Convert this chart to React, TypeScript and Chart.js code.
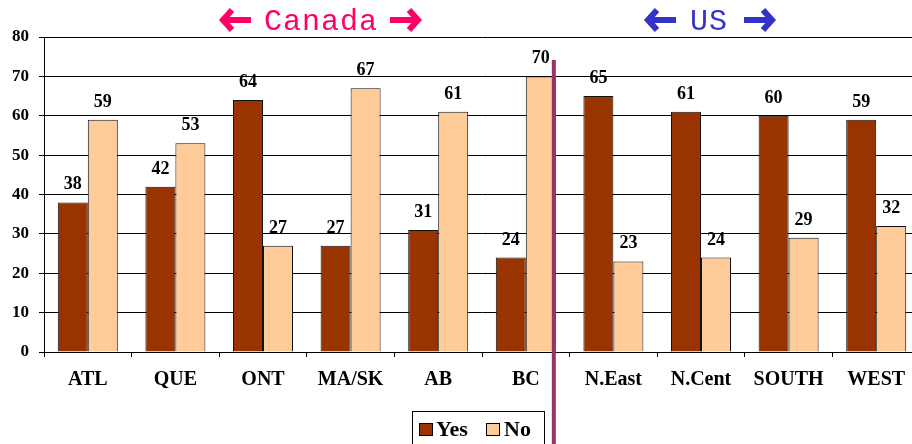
import { useEffect, useRef } from "react";
import { Chart, registerables } from "chart.js";

Chart.register(...registerables);

const categories = ["ATL", "QUE", "ONT", "MA/SK", "AB", "BC", "N.East", "N.Cent", "SOUTH", "WEST"];
const yesValues = [38, 42, 64, 27, 31, 24, 65, 61, 60, 59];
const noValues = [59, 53, 27, 67, 61, 70, 23, 24, 29, 32];
const seriesLabels = ["Yes", "No"];
const seriesColors = ["#993300", "#FFCC99"];
const regionTitles = ["Canada", "US"];
const regionColors = ["#FF0066", "#3333CC"];

const SERIF = '"Liberation Serif", "Times New Roman", serif';
const MONO = '"Liberation Mono", "DejaVu Sans Mono", monospace';

const dataLabelsPlugin = {
  id: "dataLabels",
  afterDatasetsDraw(chart: any) {
    const ctx = chart.ctx;
    ctx.save();
    ctx.font = `bold 18px ${SERIF}`;
    ctx.fillStyle = "#000";
    ctx.textAlign = "center";
    ctx.textBaseline = "alphabetic";
    chart.data.datasets.forEach((ds: any, di: number) => {
      const meta = chart.getDatasetMeta(di);
      meta.data.forEach((bar: any, i: number) => {
        ctx.fillText(String(ds.data[i]), bar.x, bar.y - 13);
      });
    });
    ctx.restore();
  },
};

function drawArrow(ctx: any, x: number, y: number, dir: number, color: string) {
  ctx.save();
  ctx.strokeStyle = color;
  ctx.lineWidth = 6;
  ctx.lineJoin = "miter";
  ctx.lineCap = "butt";
  ctx.beginPath();
  ctx.moveTo(x - dir * 10, y - 10);
  ctx.lineTo(x - dir * 1, y);
  ctx.lineTo(x - dir * 10, y + 10);
  ctx.stroke();
  ctx.beginPath();
  ctx.moveTo(x - dir * 4, y);
  ctx.lineTo(x - dir * 29, y);
  ctx.stroke();
  ctx.restore();
}

const decorPlugin = {
  id: "decor",
  afterDraw(chart: any) {
    const ctx = chart.ctx;
    const xs = chart.scales.x;
    const area = chart.chartArea;
    const catW = (area.right - area.left) / categories.length;
    const divX = xs.getPixelForValue(5) + catW * 0.32;
    ctx.save();
    ctx.strokeStyle = "#993366";
    ctx.lineWidth = 4;
    ctx.beginPath();
    ctx.moveTo(divX, area.top + 23);
    ctx.lineTo(divX, chart.height);
    ctx.stroke();
    ctx.restore();

    const titles = [
      { text: regionTitles[0], color: regionColors[0], cx: 321, left: 222, right: 419 },
      { text: regionTitles[1], color: regionColors[1], cx: 709, left: 647, right: 773 },
    ];
    titles.forEach((t) => {
      ctx.save();
      ctx.font = `30px ${MONO}`;
      (ctx as any).letterSpacing = "1px";
      ctx.fillStyle = t.color;
      ctx.textAlign = "center";
      ctx.textBaseline = "alphabetic";
      ctx.fillText(t.text, t.cx, 30);
      ctx.restore();
      drawArrow(ctx, t.left, 20, -1, t.color);
      drawArrow(ctx, t.right, 20, 1, t.color);
    });

    ctx.save();
    ctx.fillStyle = "#fff";
    ctx.fillRect(412, 411, 132, 60);
    ctx.strokeStyle = "#000";
    ctx.lineWidth = 1;
    ctx.strokeRect(412.5, 411.5, 132, 60);
    ctx.font = `bold 22px ${SERIF}`;
    ctx.textBaseline = "alphabetic";
    ctx.textAlign = "left";
    const items = [
      { sx: 419, tx: 436 },
      { sx: 486, tx: 504 },
    ];
    chart.data.datasets.forEach((ds: any, i: number) => {
      const it = items[i];
      ctx.fillStyle = ds.backgroundColor;
      ctx.fillRect(it.sx, 423, 14, 13);
      ctx.strokeStyle = "#000";
      ctx.strokeRect(it.sx + 0.5, 423.5, 13, 12);
      ctx.fillStyle = "#000";
      ctx.fillText(ds.label, it.tx, 436);
    });
    ctx.restore();
  },
};

export default function App() {
  const canvasRef = useRef<HTMLCanvasElement | null>(null);

  useEffect(() => {
    const canvas = canvasRef.current;
    if (!canvas) return;
    let chart: any = null;
    let cancelled = false;

    const build = () => {
      if (cancelled) return;
      chart = new Chart(canvas, {
        type: "bar",
        data: {
          labels: categories,
          datasets: [
            {
              label: seriesLabels[0],
              data: yesValues,
              backgroundColor: seriesColors[0],
              borderColor: "#111",
              borderWidth: 1,
              categoryPercentage: 0.685,
              barPercentage: 1,
            },
            {
              label: seriesLabels[1],
              data: noValues,
              backgroundColor: seriesColors[1],
              borderColor: "#111",
              borderWidth: 1,
              categoryPercentage: 0.685,
              barPercentage: 1,
            },
          ],
        },
        options: {
          responsive: false,
          animation: false,
          devicePixelRatio: 1,
          layout: { padding: { top: 37, right: 5, left: 0, bottom: 0 } },
          plugins: {
            legend: { display: false },
            tooltip: { enabled: false },
            title: { display: false },
          },
          scales: {
            x: {
              grid: {
                display: true,
                offset: true,
                drawOnChartArea: false,
                drawTicks: true,
                tickLength: 5,
                color: "#000",
              },
              border: { color: "#000", width: 1 },
              ticks: {
                color: "#000",
                font: { family: SERIF, size: 20, weight: "bold" },
                padding: 11,
                maxRotation: 0,
                autoSkip: false,
              },
              afterFit(scale: any) {
                scale.height = 108;
              },
            },
            y: {
              min: 0,
              max: 80,
              ticks: {
                stepSize: 10,
                color: "#000",
                font: { family: SERIF, size: 17, weight: "bold" },
                padding: 10,
              },
              grid: {
                color: "#000",
                lineWidth: 1,
                tickLength: 5,
              },
              border: { color: "#000", width: 1 },
              afterFit(scale: any) {
                scale.width = 44;
              },
            },
          },
        },
        plugins: [dataLabelsPlugin, decorPlugin],
      });
    };

    const fonts: any = (document as any).fonts;
    if (fonts && fonts.load) {
      Promise.all([
        fonts.load(`bold 20px "Liberation Serif"`),
        fonts.load(`20px "Liberation Serif"`),
        fonts.load(`30px "Liberation Mono"`),
      ])
        .catch(() => null)
        .then(build);
    } else {
      build();
    }

    return () => {
      cancelled = true;
      if (chart) chart.destroy();
    };
  }, []);

  return (
    <div
      style={{
        position: "fixed",
        left: 0,
        top: 0,
        width: 912,
        height: 444,
        overflow: "hidden",
        background: "#fff",
      }}
    >
      <canvas ref={canvasRef} width={925} height={460} style={{ display: "block" }} />
    </div>
  );
}
